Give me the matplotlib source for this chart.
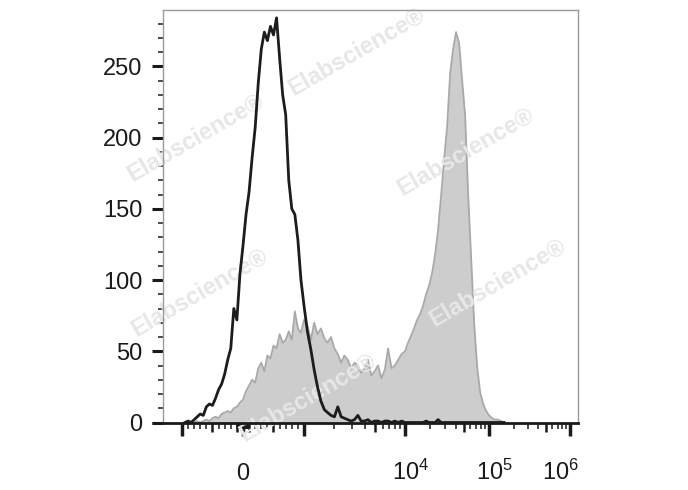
import numpy as np
import matplotlib
matplotlib.use("Agg")
import matplotlib.pyplot as plt
import matplotlib.transforms as mtransforms
from matplotlib.ticker import FixedLocator, FixedFormatter, MultipleLocator
from matplotlib.lines import Line2D

plt.rcParams['font.family'] = ['Liberation Sans', 'DejaVu Sans']
plt.rcParams['mathtext.fontset'] = 'custom'
plt.rcParams['mathtext.rm'] = 'Liberation Sans'
plt.rcParams['mathtext.it'] = 'Liberation Sans:italic'
plt.rcParams['mathtext.bf'] = 'Liberation Sans:bold'

# ---------------- data (fluorescence intensity vs. cell count) ----------------
intensity = [-950, -900, -850, -800, -750, -700, -650, -600, -550, -500,
             -450, -400, -350, -300, -250, -200, -150, -100, -50, 0,
             50, 100, 150, 200, 250, 300, 350, 400, 450, 500,
             550, 600, 650, 700, 750, 800, 850, 900, 950, 1000,
             1080, 1170, 1260, 1360, 1470, 1590, 1710, 1850, 2000, 2160,
             2330, 2510, 2710, 2930, 3160, 3410, 3680, 3970, 4290, 4640,
             5000, 5400, 5830, 6300, 6800, 7340, 7920, 8550, 9240, 10000,
             10860, 11790, 12800, 13900, 15100, 16400, 17800, 19300, 21000, 22800,
             24700, 26900, 29200, 31600, 34400, 37300, 40500, 44000, 47800, 51900,
             56300, 61200, 66400, 72100, 78300, 85000, 92300, 100000,
             108900, 118600, 129100, 140600, 153100]

control = [0, 1, 0, 2, 4, 6, 5, 11, 13, 12,
           17, 23, 27, 34, 44, 52, 80, 72, 104, 124,
           146, 162, 186, 207, 238, 262, 274, 268, 278, 272,
           284, 256, 230, 216, 170, 150, 146, 128, 100, 82,
           64, 51, 37, 25, 15, 9, 7, 5, 4, 11,
           4, 3, 2, 1, 2, 5, 1, 1, 2, 0,
           1, 1, 0, 1, 1, 0, 1, 0, 1, 0,
           0, 0, 0, 0, 0, 0, 1, 0, 0, 0,
           2, 0, 0, 0, 0, 0, 0, 0, 0, 0,
           0, 0, 0, 0, 0, 0, 0, 0,
           0, 0, 0, 0, 0]

stained = [0, 0, 0, 0, 1, 0, 1, 2, 1, 3,
           4, 3, 6, 7, 8, 7, 10, 11, 14, 16,
           22, 26, 30, 28, 38, 42, 36, 47, 45, 54,
           52, 62, 56, 58, 64, 58, 78, 66, 63, 72,
           68, 58, 70, 62, 66, 59, 56, 60, 52, 48,
           42, 47, 44, 38, 42, 40, 35, 38, 44, 33,
           36, 40, 31, 37, 52, 38, 40, 44, 48, 50,
           56, 61, 66, 72, 76, 82, 90, 96, 105, 118,
           135, 160, 185, 207, 245, 262, 274, 266, 240, 215,
           160, 115, 70, 39, 21, 13, 8, 5,
           3, 2, 2, 1, 0]

y_major = [0, 50, 100, 150, 200, 250]
x_long = [-1000, 0, 1000, 1e4, 1e5, 1e6]
x_medium = [-500, -100, 100, 500, 5e3, 5e4, 5e5]
x_labels = {0: '0', 1e4: r'$\mathregular{10^4}$', 1e5: r'$\mathregular{10^5}$', 1e6: r'$\mathregular{10^6}$'}

# ---------------- biexponential-like axis (linear near 0, log beyond) ----------------
LIN = 1000.0
LIN_W = 61.0
DEC_EXP = np.array([3.0, 4.0, 5.0, 6.0, 7.0])
DEC_POS = np.array([61.0, 162.0, 246.0, 327.0, 408.0])


def fwd(x):
    x = np.asarray(x, dtype=float)
    a = np.abs(x)
    lg = np.log10(np.maximum(a, LIN))
    return np.where(a <= LIN, x * LIN_W / LIN, np.sign(x) * np.interp(lg, DEC_EXP, DEC_POS))


def inv(t):
    t = np.asarray(t, dtype=float)
    a = np.abs(t)
    return np.where(a <= LIN_W, t * LIN / LIN_W,
                    np.sign(t) * 10 ** np.interp(np.maximum(a, LIN_W), DEC_POS, DEC_EXP))


W, H = 688, 490
fig = plt.figure(figsize=(W / 100, H / 100), dpi=100)
ax = fig.add_axes([163 / W, 1 - 422.5 / H, 415 / W, 412.5 / H])
ax.set_xscale('function', functions=(fwd, inv))
ax.set_xlim(-1540, 1.25e6)
ax.set_ylim(0, 289.5)

# histograms
ax.fill_between(intensity, stained, 0, color='#cdcdcd', lw=0, zorder=1)
ax.plot(intensity, stained, color='#a9a9a9', lw=1.3, zorder=1.5)
ax.plot(intensity, control, color='#1c1c1c', lw=2.0, zorder=3)

# watermarks
wm = [(357, 52), (466, 152), (196, 138), (498, 283), (200, 293), (308, 398)]
for (px, py) in wm:
    ax.text(px / W, 1 - py / H, 'Elabscience\u00ae', transform=fig.transFigure,
            rotation=30, ha='center', va='center', fontsize=17, fontweight='bold',
            color='#e7e7e7', zorder=2, clip_on=False)

# spines
for s in ['top', 'right', 'left']:
    ax.spines[s].set_color('#9a9a9a')
    ax.spines[s].set_linewidth(1.0)
ax.spines['bottom'].set_color('#1a1a1a')
ax.spines['bottom'].set_linewidth(2.0)
ax.add_line(Line2D([-11 / 415, 0], [0, 0], transform=ax.transAxes, color='#1a1a1a',
                   lw=2.0, clip_on=False, solid_capstyle='butt'))

# y axis ticks
ax.yaxis.set_major_locator(FixedLocator(y_major))
ax.yaxis.set_minor_locator(MultipleLocator(10))
ax.tick_params(axis='y', which='major', length=7.9, width=2.2, pad=7,
               labelsize=17, color='#1a1a1a', labelcolor='#1a1a1a')
ax.tick_params(axis='y', which='minor', length=3.6, width=1.1, color='#1a1a1a')

# x axis ticks
major_locs = sorted(x_long + x_medium)
minor_locs = ([-900, -800, -700, -600, -400, -300, -200]
              + list(range(-90, 0, 10)) + list(range(10, 100, 10))
              + [200, 300, 400, 600, 700, 800, 900]
              + [2e3, 3e3, 4e3, 6e3, 7e3, 8e3, 9e3]
              + [2e4, 3e4, 4e4, 6e4, 7e4, 8e4, 9e4]
              + [2e5, 3e5, 4e5, 6e5, 7e5, 8e5, 9e5])
ax.xaxis.set_major_locator(FixedLocator(major_locs))
ax.xaxis.set_major_formatter(FixedFormatter([x_labels.get(v, '') for v in major_locs]))
ax.xaxis.set_minor_locator(FixedLocator(minor_locs))
ax.tick_params(axis='x', which='major', length=9.4, width=2.5, pad=32,
               labelsize=17, color='#1a1a1a', labelcolor='#1a1a1a')
ax.tick_params(axis='x', which='minor', length=4.3, width=1.1, color='#1a1a1a')

offsets = {1e4: 6, 1e5: 5, 1e6: -10}
for tick, loc in zip(ax.xaxis.get_major_ticks(), major_locs):
    if loc in x_medium:
        tick.tick1line.set_markersize(6.5)
        tick.tick1line.set_markeredgewidth(1.8)
    tick.label1.set_va('baseline')
    dx = offsets.get(loc, 0)
    if dx:
        tick.label1.set_transform(tick.label1.get_transform() +
                                  mtransforms.ScaledTranslation(dx / 100, 0, fig.dpi_scale_trans))

fig.savefig('out.png', dpi=100)
